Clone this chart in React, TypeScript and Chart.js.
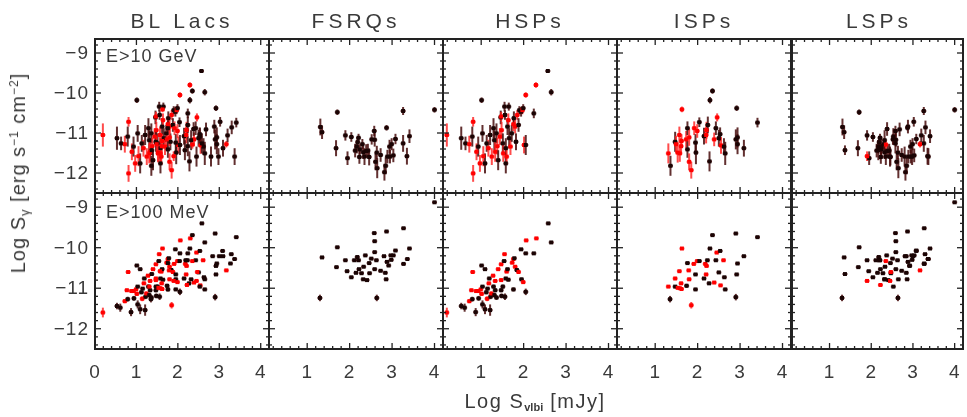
import React, { useEffect, useRef } from "react";
import { Chart, registerables } from "chart.js";
Chart.register(...registerables);

// [x = log S_vlbi, y = log S_gamma, y error, 1 = red sample]
type P = [number, number, number, number];

const TITLES = ["BL Lacs", "FSRQs", "HSPs", "ISPs", "LSPs"];
const ROW_LABELS = ["E>10 GeV", "E>100 MeV"];
const X_TICKS = [0, 1, 2, 3, 4];
const Y_TICKS = [-9, -10, -11, -12];

const hspTop: P[] = [
  [0.19, -11.05, 0.29, 1], [0.53, -11.13, 0.29, 0], [0.63, -11.26, 0.17, 0], [1.01, -10.18, 0.07, 0],
  [0.81, -10.72, 0.12, 1], [0.72, -11.28, 0.21, 1], [0.81, -12.01, 0.21, 1], [0.79, -11.09, 0.25, 0],
  [0.89, -11.47, 0.21, 1], [0.93, -11.34, 0.25, 0], [0.97, -11.76, 0.21, 1], [1.03, -11.01, 0.21, 0],
  [1.05, -11.58, 0.25, 1], [1.09, -11.76, 0.25, 0], [1.13, -11.26, 0.21, 0], [1.17, -11.38, 0.21, 1],
  [1.21, -11.05, 0.25, 0], [1.25, -11.59, 0.21, 1], [1.29, -10.88, 0.25, 0], [1.31, -11.18, 0.25, 0],
  [1.33, -11.47, 0.25, 1], [1.36, -11.01, 0.25, 0], [1.38, -11.33, 0.21, 1], [1.40, -11.68, 0.25, 0],
  [1.44, -11.09, 0.21, 1], [1.46, -10.61, 0.17, 0], [1.47, -10.59, 0.12, 1], [1.48, -10.93, 0.21, 1],
  [1.51, -11.26, 0.25, 0], [1.52, -11.51, 0.21, 1], [1.55, -10.34, 0.12, 0], [1.56, -10.55, 0.12, 0],
  [1.58, -11.38, 0.25, 0], [1.58, -11.76, 0.25, 0], [1.60, -11.59, 0.21, 1], [1.62, -10.84, 0.21, 0],
  [1.64, -10.68, 0.17, 1], [1.65, -10.34, 0.10, 0], [1.66, -11.13, 0.25, 0], [1.69, -11.34, 0.21, 1],
  [1.72, -11.01, 0.21, 0], [1.76, -10.78, 0.17, 1], [1.77, -10.63, 0.17, 0], [1.80, -10.84, 0.17, 1],
  [1.82, -11.22, 0.21, 0], [1.85, -10.55, 0.12, 1], [1.88, -10.80, 0.17, 0], [1.90, -10.43, 0.10, 0],
  [1.94, -10.47, 0.12, 0], [1.97, -10.43, 0.10, 1], [1.99, -10.38, 0.10, 0], [2.01, -11.30, 0.21, 1],
  [2.05, -11.30, 0.25, 0], [2.24, -10.51, 0.12, 0], [2.05, -10.05, 0.07, 1], [2.29, -9.80, 0.07, 1],
  [2.57, -9.45, 0.04, 0], [2.65, -9.98, 0.08, 0],
];

const hspBottom: P[] = [
  [0.19, -11.60, 0.12, 1], [0.53, -11.44, 0.08, 0], [0.61, -11.48, 0.10, 0], [0.87, -11.59, 0.10, 0],
  [0.80, -10.60, 0.03, 1], [0.77, -11.05, 0.04, 1], [0.72, -11.32, 0.05, 1], [0.79, -11.27, 0.06, 0],
  [0.88, -11.07, 0.04, 1], [0.93, -11.07, 0.04, 1], [0.94, -11.25, 0.06, 0], [0.99, -11.03, 0.04, 1],
  [1.01, -10.44, 0.03, 0], [1.03, -10.96, 0.04, 0], [1.03, -11.40, 0.10, 0], [1.01, -11.14, 0.05, 1],
  [1.09, -10.53, 0.03, 0], [1.09, -11.52, 0.12, 0], [1.12, -11.10, 0.05, 0], [1.14, -11.26, 0.06, 1],
  [1.15, -11.01, 0.04, 0], [1.18, -10.88, 0.04, 1], [1.19, -10.76, 0.04, 0], [1.21, -11.54, 0.14, 0],
  [1.22, -11.21, 0.06, 0], [1.24, -11.13, 0.05, 1], [1.29, -10.96, 0.05, 0], [1.28, -10.69, 0.04, 1],
  [1.31, -11.17, 0.06, 0], [1.33, -11.05, 0.05, 0], [1.33, -10.82, 0.04, 1], [1.36, -11.23, 0.06, 0],
  [1.40, -10.53, 0.03, 1], [1.47, -10.41, 0.03, 1], [1.47, -11.05, 0.05, 0], [1.48, -11.19, 0.06, 0],
  [1.47, -10.80, 0.04, 1], [1.51, -10.96, 0.05, 0], [1.54, -10.33, 0.03, 0], [1.55, -10.16, 0.03, 1],
  [1.56, -11.21, 0.08, 0], [1.58, -10.76, 0.04, 0], [1.60, -10.59, 0.03, 1], [1.62, -10.53, 0.03, 0],
  [1.64, -10.79, 0.04, 0], [1.73, -10.37, 0.03, 1], [1.76, -10.28, 0.03, 1], [1.78, -10.26, 0.03, 0],
  [1.80, -10.47, 0.03, 1], [1.76, -11.03, 0.05, 0], [1.84, -10.55, 0.03, 0], [1.88, -10.60, 0.03, 1],
  [1.94, -10.04, 0.03, 0], [1.95, -10.78, 0.04, 0], [1.99, -10.85, 0.04, 1], [2.05, -10.14, 0.03, 0],
  [2.05, -11.09, 0.08, 0], [2.06, -9.82, 0.03, 1], [2.24, -10.14, 0.03, 0], [2.30, -9.77, 0.03, 1],
  [2.58, -9.40, 0.03, 0], [2.65, -9.87, 0.03, 0],
];

const ispTop: P[] = [
  [1.31, -11.51, 0.25, 1], [1.36, -11.82, 0.25, 0], [1.47, -11.22, 0.25, 0], [1.49, -11.28, 0.21, 1],
  [1.53, -11.49, 0.25, 1], [1.57, -11.05, 0.21, 1], [1.58, -11.51, 0.21, 1], [1.61, -11.33, 0.21, 1],
  [1.62, -11.20, 0.17, 1], [1.63, -10.41, 0.07, 1], [1.73, -11.16, 0.21, 1], [1.76, -10.88, 0.17, 0],
  [1.76, -11.41, 0.21, 0], [1.80, -11.11, 0.21, 1], [1.80, -11.72, 0.21, 1], [1.85, -11.93, 0.21, 1],
  [1.92, -10.88, 0.17, 1], [1.95, -11.24, 0.21, 0], [1.96, -11.49, 0.29, 0], [1.99, -10.95, 0.17, 1],
  [2.04, -10.73, 0.12, 0], [2.15, -11.08, 0.21, 0], [2.20, -11.05, 0.21, 1], [2.21, -10.93, 0.21, 1],
  [2.24, -10.80, 0.21, 0], [2.28, -11.71, 0.25, 0], [2.29, -10.18, 0.08, 0], [2.35, -9.95, 0.07, 0],
  [2.39, -11.16, 0.17, 1], [2.43, -10.88, 0.17, 0], [2.46, -10.61, 0.10, 1], [2.50, -11.13, 0.21, 0],
  [2.53, -11.03, 0.17, 0], [2.55, -11.31, 0.21, 1], [2.62, -11.34, 0.21, 0], [2.65, -11.51, 0.29, 0],
  [2.90, -11.16, 0.25, 0], [2.92, -10.38, 0.07, 0], [2.94, -11.11, 0.25, 0], [2.94, -11.28, 0.25, 0],
  [3.09, -11.38, 0.21, 0], [3.41, -10.74, 0.12, 0],
];

const ispBottom: P[] = [
  [1.35, -11.27, 0.08, 0], [1.31, -10.96, 0.03, 1], [1.47, -10.96, 0.04, 0], [1.47, -10.76, 0.04, 1],
  [1.53, -10.99, 0.04, 1], [1.57, -10.58, 0.03, 1], [1.58, -11.00, 0.04, 1], [1.61, -10.88, 0.04, 1],
  [1.62, -11.02, 0.04, 1], [1.63, -10.02, 0.03, 1], [1.76, -10.38, 0.03, 0], [1.79, -10.56, 0.03, 1],
  [1.80, -10.78, 0.04, 1], [1.74, -10.94, 0.05, 0], [1.85, -11.42, 0.08, 1], [1.91, -10.40, 0.03, 1],
  [1.95, -10.66, 0.03, 0], [1.95, -11.03, 0.04, 0], [1.99, -10.33, 0.03, 1], [2.04, -10.33, 0.03, 0],
  [2.15, -10.76, 0.04, 0], [2.18, -10.40, 0.03, 1], [2.20, -10.66, 0.03, 1], [2.21, -10.45, 0.03, 1],
  [2.23, -10.31, 0.03, 0], [2.27, -10.88, 0.04, 0], [2.29, -10.02, 0.03, 0], [2.35, -9.69, 0.03, 0],
  [2.39, -10.86, 0.03, 1], [2.43, -10.31, 0.03, 0], [2.45, -10.12, 0.03, 1], [2.50, -10.61, 0.03, 0],
  [2.53, -10.08, 0.03, 0], [2.54, -10.93, 0.03, 1], [2.61, -10.31, 0.03, 1], [2.63, -10.73, 0.03, 0],
  [2.65, -11.03, 0.04, 0], [2.90, -11.22, 0.08, 0], [2.90, -9.65, 0.03, 0], [2.92, -10.66, 0.03, 0],
  [2.94, -10.39, 0.03, 0], [3.09, -10.21, 0.03, 0], [3.41, -9.74, 0.03, 0],
];

const fsrqTop: P[] = [
  [1.31, -10.85, 0.21, 0], [1.35, -10.98, 0.17, 0], [1.71, -10.48, 0.07, 0], [1.68, -11.38, 0.20, 0],
  [1.90, -11.06, 0.13, 0], [1.95, -11.63, 0.17, 0], [2.04, -11.10, 0.12, 0], [2.13, -11.44, 0.17, 0],
  [2.17, -11.34, 0.17, 0], [2.19, -11.23, 0.13, 0], [2.21, -11.12, 0.10, 0], [2.23, -11.60, 0.17, 0],
  [2.24, -11.41, 0.13, 0], [2.30, -11.28, 0.13, 0], [2.32, -11.48, 0.17, 0], [2.35, -11.59, 0.21, 0],
  [2.39, -11.45, 0.17, 0], [2.43, -11.44, 0.17, 0], [2.46, -11.60, 0.21, 0], [2.52, -11.16, 0.13, 0],
  [2.58, -10.95, 0.13, 0], [2.59, -11.17, 0.17, 0], [2.61, -11.72, 0.21, 0], [2.64, -11.49, 0.17, 0],
  [2.65, -11.88, 0.25, 0], [2.73, -11.55, 0.17, 0], [2.82, -11.98, 0.21, 0], [2.85, -11.82, 0.21, 0],
  [2.87, -10.87, 0.07, 0], [2.89, -11.59, 0.17, 0], [2.94, -11.34, 0.17, 0], [2.95, -11.59, 0.17, 0],
  [2.99, -11.28, 0.15, 0], [3.03, -11.56, 0.17, 0], [3.08, -11.15, 0.13, 0], [3.26, -10.45, 0.10, 0],
  [3.26, -11.26, 0.21, 0], [3.35, -11.58, 0.21, 0], [3.41, -11.08, 0.17, 0], [4.00, -10.42, 0.07, 0],
];

const fsrqBottom: P[] = [
  [1.30, -11.24, 0.08, 0], [1.35, -10.24, 0.03, 0], [1.69, -10.48, 0.03, 0], [1.71, -9.99, 0.03, 0],
  [1.90, -10.31, 0.03, 0], [1.94, -10.58, 0.03, 0], [2.04, -10.73, 0.03, 0], [2.11, -10.31, 0.03, 0],
  [2.15, -10.62, 0.03, 0], [2.18, -10.23, 0.03, 0], [2.21, -10.31, 0.03, 0], [2.22, -10.53, 0.03, 0],
  [2.28, -10.63, 0.03, 0], [2.32, -10.78, 0.03, 0], [2.33, -10.47, 0.03, 0], [2.37, -10.19, 0.03, 0],
  [2.41, -10.80, 0.03, 0], [2.46, -10.38, 0.03, 0], [2.47, -10.63, 0.03, 0], [2.51, -10.27, 0.03, 0],
  [2.58, -9.64, 0.03, 0], [2.59, -10.11, 0.03, 0], [2.59, -9.84, 0.03, 0], [2.59, -10.53, 0.03, 0],
  [2.63, -10.31, 0.03, 0], [2.64, -11.24, 0.08, 0], [2.73, -10.57, 0.03, 0], [2.81, -10.21, 0.03, 0],
  [2.84, -10.62, 0.03, 0], [2.86, -10.78, 0.03, 0], [2.87, -9.60, 0.03, 0], [2.88, -10.35, 0.03, 0],
  [2.92, -10.44, 0.03, 0], [2.97, -10.19, 0.03, 0], [2.98, -10.30, 0.03, 0], [3.03, -10.19, 0.03, 0],
  [3.08, -10.07, 0.03, 0], [3.27, -9.52, 0.03, 0], [3.27, -10.40, 0.03, 0], [3.36, -10.28, 0.03, 0],
  [3.41, -10.02, 0.03, 0], [4.00, -8.88, 0.03, 0],
];

// LSP sources that are not FSRQs (LSP BL Lacs)
const lspBlTop: P[] = [
  [1.37, -11.43, 0.12, 0], [1.90, -11.58, 0.12, 1], [2.17, -11.43, 0.25, 0], [2.24, -11.33, 0.25, 0],
  [2.32, -11.18, 0.25, 0], [2.38, -10.90, 0.17, 0], [2.35, -11.29, 0.10, 1], [2.45, -11.59, 0.25, 0],
  [2.53, -11.09, 0.21, 0], [2.58, -11.26, 0.25, 0], [2.68, -10.91, 0.17, 0], [2.80, -11.59, 0.25, 0],
  [2.88, -10.84, 0.17, 0], [2.98, -11.59, 0.21, 0], [3.17, -11.28, 0.08, 1], [3.20, -11.06, 0.17, 0],
  [3.30, -10.86, 0.17, 0], [3.37, -11.59, 0.21, 0], [3.02, -10.72, 0.12, 0],
];

const lspBlBottom: P[] = [
  [1.37, -10.65, 0.03, 0], [1.90, -10.82, 0.03, 1], [2.22, -10.92, 0.03, 1], [2.35, -10.33, 0.03, 1],
  [2.47, -10.60, 0.03, 1], [2.45, -10.82, 0.03, 1], [3.17, -10.56, 0.03, 1], [2.19, -10.31, 0.03, 0],
  [2.32, -10.78, 0.03, 0], [2.53, -10.96, 0.04, 0], [2.65, -10.78, 0.03, 0], [2.84, -10.21, 0.03, 0],
  [2.92, -10.45, 0.03, 0], [3.00, -10.21, 0.03, 0], [3.08, -10.08, 0.03, 0], [3.27, -10.39, 0.03, 0],
  [3.29, -10.16, 0.03, 0], [3.37, -10.28, 0.03, 0],
];

const PANEL_DATA: P[][][] = [
  [[...hspTop, ...ispTop, ...lspBlTop], [...hspBottom, ...ispBottom, ...lspBlBottom]],
  [fsrqTop, fsrqBottom],
  [hspTop, hspBottom],
  [ispTop, ispBottom],
  [[...fsrqTop, ...lspBlTop], [...fsrqBottom, ...lspBlBottom]],
];

// layout
const W = 967;
const H = 417;
const COL_LEFT = [95, 269, 443, 617, 792];
const PANEL_W = 174;
const ROW_TOP = [39, 193];
const ROW_BOT = [193, 349];
const FONT = '"Liberation Sans", Arial, sans-serif';
const INK = "#222";
const TXT = "#3a3a3a";
const RED = "#ff0000";
const BLACK = "#1a0404";

function Panel({ col, row }: { col: number; row: number }) {
  const ref = useRef<HTMLCanvasElement>(null);
  useEffect(() => {
    const cv = ref.current!;
    const pts = PANEL_DATA[col][row];
    const xMin = col === 0 ? 0 : 0.1;
    const xMax = 4.2;
    const plugin = {
      id: "panelFrame",
      beforeDatasetsDraw(chart: any) {
        const ctx = chart.ctx;
        const a = chart.chartArea;
        const xs = chart.scales.x;
        const ys = chart.scales.y;
        ctx.save();
        ctx.beginPath();
        ctx.rect(a.left, a.top, a.right - a.left, a.bottom - a.top);
        ctx.clip();
        ctx.lineWidth = 2;
        for (const p of pts) {
          const px = xs.getPixelForValue(p[0]);
          const y1 = ys.getPixelForValue(p[1] - p[2]);
          const y2 = ys.getPixelForValue(p[1] + p[2]);
          ctx.strokeStyle = p[3] ? "rgba(255,30,30,0.8)" : "rgba(70,12,12,0.85)";
          ctx.beginPath();
          ctx.moveTo(px, y1);
          ctx.lineTo(px, y2);
          ctx.stroke();
          ctx.beginPath();
          ctx.moveTo(px - 2.5, ys.getPixelForValue(p[1]));
          ctx.lineTo(px + 2.5, ys.getPixelForValue(p[1]));
          ctx.stroke();
        }
        ctx.restore();
      },
      afterDraw(chart: any) {
        const ctx = chart.ctx;
        const a = chart.chartArea;
        const xs = chart.scales.x;
        const ys = chart.scales.y;
        ctx.save();
        ctx.strokeStyle = INK;
        ctx.lineWidth = 1.3;
        const line = (x1: number, y1: number, x2: number, y2: number) => {
          ctx.beginPath();
          ctx.moveTo(x1, y1);
          ctx.lineTo(x2, y2);
          ctx.stroke();
        };
        for (let k = Math.ceil(xMin * 5 - 1e-9); k <= Math.floor(xMax * 5 + 1e-9); k++) {
          const px = xs.getPixelForValue(k / 5);
          const len = k % 5 === 0 ? 6 : 3;
          line(px, a.bottom, px, a.bottom - len);
          line(px, a.top, px, a.top + len);
        }
        for (let k = -62; k <= -44; k++) {
          const py = ys.getPixelForValue(k / 5);
          const len = k % 5 === 0 ? 6 : 3;
          line(a.left, py, a.left + len, py);
          line(a.right, py, a.right - len, py);
        }
        ctx.lineWidth = 2;
        ctx.strokeRect(a.left, a.top, a.right - a.left, a.bottom - a.top);
        ctx.fillStyle = TXT;
        ctx.font = `19px ${FONT}`;
        (ctx as any).letterSpacing = "1px";
        if (col === 0) {
          ctx.textAlign = "right";
          ctx.textBaseline = "middle";
          for (const v of Y_TICKS) {
            ctx.fillText("\u2212" + Math.abs(v), a.left - 6, ys.getPixelForValue(v) + 1);
          }
        }
        if (row === 1) {
          ctx.textAlign = "center";
          ctx.textBaseline = "middle";
          for (const v of X_TICKS) {
            if (v < xMin) continue;
            ctx.fillText(String(v), xs.getPixelForValue(v), a.bottom + 24);
          }
        }
        ctx.restore();
      },
    };
    const chart = new Chart(cv, {
      type: "scatter",
      data: {
        datasets: [
          {
            data: pts.map((p) => ({ x: p[0], y: p[1] })),
            pointStyle: "rect",
            pointRadius: 2.8,
            pointBorderWidth: 0,
            pointBackgroundColor: pts.map((p) => (p[3] ? RED : BLACK)),
          } as any,
        ],
      },
      options: {
        responsive: false,
        animation: false,
        events: [],
        layout: {
          padding: {
            left: COL_LEFT[col],
            right: W - COL_LEFT[col] - PANEL_W,
            top: ROW_TOP[row],
            bottom: H - ROW_BOT[row],
          },
        },
        plugins: { legend: { display: false }, tooltip: { enabled: false } },
        scales: {
          x: { type: "linear", display: false, min: xMin, max: xMax },
          y: { type: "linear", display: false, min: -12.5, max: -8.65 },
        },
      },
      plugins: [plugin],
    });
    return () => chart.destroy();
  }, [col, row]);
  return (
    <canvas
      ref={ref}
      width={W}
      height={H}
      style={{ position: "absolute", left: 0, top: 0, width: W, height: H }}
    />
  );
}

export default function App() {
  const text: React.CSSProperties = {
    position: "absolute",
    whiteSpace: "nowrap",
    lineHeight: 1,
    color: TXT,
    fontFamily: FONT,
  };
  const sup: React.CSSProperties = { fontSize: "60%", position: "relative", top: "-0.6em" };
  const sub: React.CSSProperties = { fontSize: "65%", position: "relative", top: "0.3em" };
  return (
    <div
      style={{
        position: "absolute",
        left: 0,
        top: 0,
        width: W,
        height: H,
        background: "#fff",
        overflow: "hidden",
      }}
    >
      {[0, 1, 2, 3, 4].map((c) =>
        [0, 1].map((r) => <Panel key={`${c}-${r}`} col={c} row={r} />)
      )}
      {TITLES.map((t, i) => (
        <div
          key={t}
          style={{
            ...text,
            left: COL_LEFT[i] + PANEL_W / 2,
            top: 20,
            fontSize: 21,
            letterSpacing: "4px",
            transform: "translate(-50%,-50%)",
          }}
        >
          {t}
        </div>
      ))}
      {ROW_LABELS.map((t, r) => (
        <div
          key={t}
          style={{
            ...text,
            left: 106,
            top: r === 0 ? 56 : 212,
            fontSize: 18,
            letterSpacing: "1px",
            transform: "translateY(-50%)",
          }}
        >
          {t}
        </div>
      ))}
      <div
        style={{
          ...text,
          left: 18,
          top: 173,
          fontSize: 20,
          letterSpacing: "1px",
          transform: "translate(-50%,-50%) rotate(-90deg)",
        }}
      >
        Log S<span style={sub}>γ</span> [erg s<span style={sup}>−1</span> cm
        <span style={sup}>−2</span>]
      </div>
      <div
        style={{
          ...text,
          left: 535,
          top: 401,
          fontSize: 20,
          letterSpacing: "1.5px",
          transform: "translate(-50%,-50%)",
        }}
      >
        Log S<span style={{ ...sub, fontSize: "55%", fontWeight: "bold", letterSpacing: 0 }}>vlbi</span> [mJy]
      </div>
    </div>
  );
}
